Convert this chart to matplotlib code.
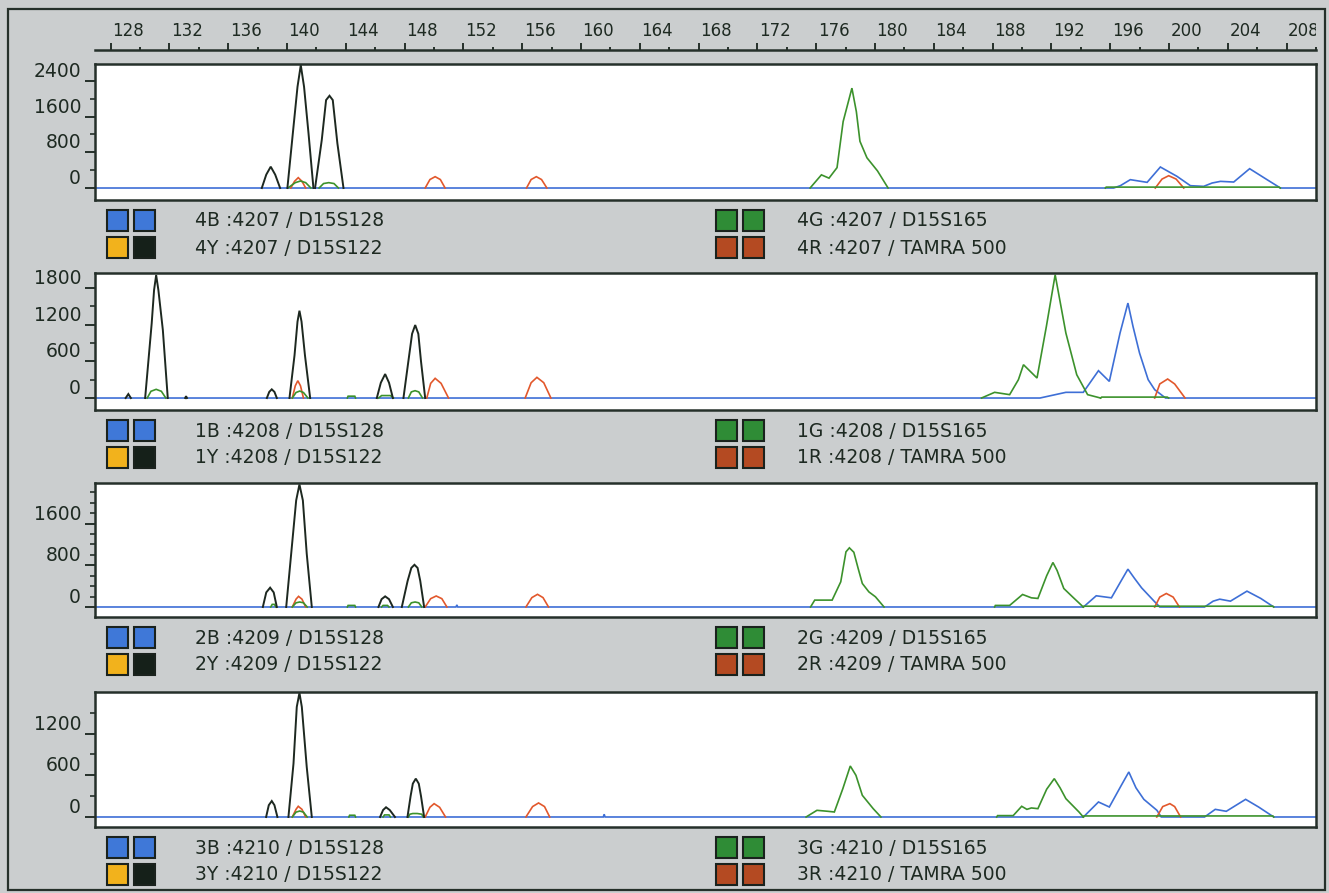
import matplotlib.pyplot as plt
from matplotlib.patches import Rectangle

W, H = 1329, 893

# ---- data (size in bp, signal in rfu) ----
LANES = ['4', '1', '2', '3']
SAMPLES = ['4207', '4208', '4209', '4210']
MARKERS = ['D15S128', 'D15S122', 'D15S165', 'TAMRA 500']
DYES = ['B', 'Y', 'G', 'R']

RULER_TICKS = list(range(128, 212, 4))
MAJOR_Y = [[0, 800, 1600, 2400], [0, 600, 1200, 1800], [0, 800, 1600], [0, 600, 1200]]
MINOR_Y = [[400, 1200, 2000], [300, 900, 1500],
           [200, 400, 600, 1000, 1200, 1400, 1800, 2000, 2200], [300, 900, 1500]]

# lane 4 / 4207
P1_BLUE = [[(126.9, 0), (195.4, 0), (195.85, 52), (196.52, 187), (197.65, 127), (198.54, 471),
            (199.66, 261), (200.56, 52), (201.45, 37), (202.02, 112), (202.58, 149), (203.47, 134),
            (204.54, 433), (205.71, 187), (206.61, 0), (209.1, 0)]]
P1_GREEN = [[(139.9, 0), (140.4, 120), (140.75, 157), (141.1, 120), (141.45, 0)],
            [(142.0, 0), (142.3, 100), (142.65, 120), (143.0, 100), (143.3, 0)],
            [(175.0, 0), (175.76, 295), (176.27, 221), (176.81, 457), (177.22, 1489), (177.81, 2240),
             (178.11, 1710), (178.35, 1047), (178.82, 678), (179.53, 383), (180.24, 0)],
            [(194.84, 0), (194.9, 20), (206.5, 20), (206.6, 0)]]
P1_BLACK = [[(138.15, 0), (138.45, 300), (138.75, 478), (139.05, 300), (139.38, 0)],
            [(139.87, 0), (140.28, 1374), (140.55, 2271), (140.77, 2756), (140.99, 2271),
             (141.29, 1225), (141.62, 0)],
            [(141.73, 0), (142.18, 1076), (142.47, 1972), (142.7, 2069), (142.92, 1972),
             (143.23, 1001), (143.64, 0)]]
P1_RED = [[(140.1, 0), (140.35, 150), (140.6, 232), (140.85, 150), (141.1, 0)],
          [(149.13, 0), (149.45, 190), (149.8, 254), (150.15, 190), (150.47, 0)],
          [(155.94, 0), (156.25, 190), (156.6, 254), (156.95, 190), (157.31, 0)],
          [(198.2, 0), (198.65, 200), (199.1, 276), (199.6, 200), (200.11, 0)]]

# lane 1 / 4208
P2_BLUE = [[(126.9, 0), (190.45, 0), (192.19, 93), (193.36, 93), (194.38, 447), (195.11, 272),
            (195.83, 1063), (196.36, 1553), (196.7, 1172), (197.14, 736), (197.72, 300),
            (198.16, 136), (198.89, 0), (209.1, 0)]]
P2_GREEN = [[(130.45, 0), (130.7, 110), (131.05, 142), (131.4, 110), (131.7, 0)],
            [(140.2, 0), (140.45, 90), (140.7, 114), (140.95, 90), (141.25, 0)],
            [(143.9, 0), (143.95, 30), (144.4, 30), (144.45, 0)],
            [(146.0, 0), (146.2, 40), (146.8, 40), (147.0, 0)],
            [(148.0, 0), (148.2, 100), (148.45, 120), (148.7, 100), (148.95, 0)],
            [(186.52, 0), (187.4, 93), (188.41, 55), (189.0, 300), (189.34, 545), (190.25, 327),
             (190.88, 1172), (191.47, 2016), (192.19, 1063), (192.92, 381), (193.65, 55),
             (194.52, 0)],
            [(194.52, 0), (194.6, 15), (199.0, 15), (199.1, 0)]]
P2_BLACK = [[(129.0, 0), (129.18, 65), (129.35, 0)],
            [(130.31, 0), (130.75, 1221), (130.91, 1766), (131.05, 2011), (131.2, 1766),
             (131.5, 1112), (131.83, 0)],
            [(133.0, 0), (133.06, 30), (133.12, 0)],
            [(138.49, 0), (138.65, 100), (138.82, 142), (139.0, 100), (139.16, 0)],
            [(140.01, 0), (140.35, 700), (140.55, 1250), (140.68, 1428), (140.82, 1250),
             (141.05, 700), (141.4, 0)],
            [(145.88, 0), (146.15, 250), (146.44, 392), (146.7, 250), (146.96, 0)],
            [(147.67, 0), (148.0, 600), (148.25, 1050), (148.46, 1194), (148.67, 1050),
             (148.85, 600), (149.13, 0)]]
P2_RED = [[(140.2, 0), (140.4, 200), (140.57, 283), (140.75, 200), (140.95, 0)],
          [(149.24, 0), (149.5, 240), (149.8, 322), (150.2, 240), (150.7, 0)],
          [(155.85, 0), (156.25, 250), (156.64, 338), (157.1, 250), (157.58, 0)],
          [(198.16, 0), (198.5, 230), (199.03, 311), (199.5, 230), (200.2, 0)]]

# lane 2 / 4209
P3_BLUE = [[(126.9, 0), (151.2, 0), (151.26, 40), (151.32, 0), (193.37, 0), (194.23, 215),
            (195.25, 176), (195.9, 500), (196.36, 726), (196.8, 550), (197.28, 367),
            (198.16, 100), (198.5, 0), (201.51, 0), (202.09, 112), (202.53, 150), (203.25, 112),
            (204.36, 304), (205.29, 164), (206.16, 0), (209.1, 0)]]
P3_GREEN = [[(138.75, 0), (138.85, 50), (139.0, 50), (139.1, 0)],
            [(140.2, 0), (140.45, 80), (140.7, 96), (140.95, 80), (141.2, 0)],
            [(143.9, 0), (143.95, 30), (144.4, 30), (144.45, 0)],
            [(146.2, 0), (146.3, 30), (146.6, 30), (146.7, 0)],
            [(148.0, 0), (148.2, 80), (148.45, 96), (148.7, 80), (148.9, 0)],
            [(175.03, 0), (175.31, 132), (176.48, 132), (177.06, 483), (177.41, 1058),
             (177.64, 1135), (177.94, 1050), (178.23, 739), (178.51, 451), (178.95, 290),
             (179.39, 196), (179.97, 0)],
            [(187.4, 0), (187.45, 30), (188.41, 30), (189.28, 240), (189.87, 176), (190.31, 164),
             (190.9, 600), (191.32, 854), (191.6, 700), (192.05, 355), (192.63, 196), (193.36, 0)],
            [(193.36, 0), (193.4, 15), (206.1, 15), (206.16, 0)]]
P3_BLACK = [[(138.22, 0), (138.45, 280), (138.71, 371), (138.95, 280), (139.16, 0)],
            [(139.79, 0), (140.23, 1342), (140.46, 2045), (140.68, 2352), (140.91, 2045),
             (141.17, 1022), (141.51, 0)],
            [(145.99, 0), (146.2, 150), (146.44, 204), (146.7, 150), (146.96, 0)],
            [(147.56, 0), (147.95, 500), (148.2, 750), (148.41, 810), (148.62, 750),
             (148.8, 500), (149.06, 0)]]
P3_RED = [[(140.2, 0), (140.45, 150), (140.62, 204), (140.85, 150), (141.1, 0)],
          [(149.13, 0), (149.5, 160), (149.87, 211), (150.25, 160), (150.59, 0)],
          [(155.9, 0), (156.3, 180), (156.68, 243), (157.05, 180), (157.42, 0)],
          [(198.16, 0), (198.5, 190), (198.94, 259), (199.4, 190), (199.82, 0)]]

# lane 3 / 4210
P4_BLUE = [[(126.9, 0), (161.1, 0), (161.16, 40), (161.22, 0), (193.37, 0), (194.38, 216),
            (195.11, 144), (195.9, 450), (196.42, 648), (196.9, 420), (197.43, 254),
            (198.31, 96), (198.6, 0), (201.51, 0), (202.23, 110), (202.97, 82), (204.27, 254),
            (205.14, 144), (206.16, 0), (209.1, 0)]]
P4_GREEN = [[(140.2, 0), (140.45, 70), (140.7, 86), (140.95, 70), (141.2, 0)],
            [(144.0, 0), (144.05, 25), (144.4, 25), (144.45, 0)],
            [(146.3, 0), (146.4, 30), (146.7, 30), (146.8, 0)],
            [(148.0, 0), (148.1, 40), (148.3, 50), (148.6, 50), (148.9, 40), (149.0, 0)],
            [(174.73, 0), (175.46, 96), (176.19, 82), (176.63, 72), (177.2, 408), (177.7, 734),
             (178.08, 600), (178.51, 312), (179.24, 120), (179.76, 0)],
            [(187.54, 0), (187.6, 20), (188.65, 20), (189.22, 154), (189.57, 110), (189.87, 130),
             (190.31, 120), (190.9, 400), (191.41, 552), (191.8, 420), (192.19, 264),
             (193.07, 72), (193.36, 0)],
            [(193.36, 0), (193.4, 15), (206.1, 15), (206.16, 0)]]
P4_BLACK = [[(138.44, 0), (138.62, 170), (138.82, 230), (139.0, 170), (139.2, 0)],
            [(139.94, 0), (140.28, 768), (140.5, 1584), (140.68, 1786), (140.84, 1584),
             (141.17, 720), (141.51, 0)],
            [(146.1, 0), (146.3, 100), (146.5, 140), (146.75, 100), (147.1, 0)],
            [(147.94, 0), (148.15, 300), (148.3, 480), (148.5, 552), (148.7, 480),
             (148.85, 300), (149.06, 0)]]
P4_RED = [[(140.2, 0), (140.45, 110), (140.6, 154), (140.85, 110), (141.1, 0)],
          [(149.13, 0), (149.45, 140), (149.73, 192), (150.1, 140), (150.5, 0)],
          [(155.9, 0), (156.35, 150), (156.75, 202), (157.15, 150), (157.5, 0)],
          [(198.3, 0), (198.7, 150), (199.18, 192), (199.5, 150), (199.9, 0)]]

PANEL_TRACES = [
    (P1_BLUE, P1_RED, P1_GREEN, P1_BLACK),
    (P2_BLUE, P2_RED, P2_GREEN, P2_BLACK),
    (P3_BLUE, P3_RED, P3_GREEN, P3_BLACK),
    (P4_BLUE, P4_RED, P4_GREEN, P4_BLACK),
]

# ---- layout / style ----
BG = '#cbcecf'
EDGE = '#25302a'
TXT = '#1e2a22'
TRACE_COLORS = ['#3e6fd6', '#e2582c', '#3c922c', '#1d2820']
SWATCH = {'B': '#3f78d8', 'Y': '#f2b21c', 'G': '#2f8c36', 'R': '#b44a22'}
XLIM = (126.94, 209.0)
PANEL_TOP = [64, 273, 483, 692]
PANEL_BOT = [200, 410, 617, 827]
YLIMS = [(-269, 2781), (-196, 2045), (-192, 2379), (-144, 1799)]
LEFT, RIGHT = 95, 1316

plt.rcParams['font.family'] = ['DejaVu Sans']


def fx(px):
    return px / W


def fy(py):
    return 1 - py / H


fig = plt.figure(figsize=(W / 100, H / 100), dpi=100, facecolor=BG)

# outer frame
fig.add_artist(Rectangle((fx(8), fy(890)), fx(1325) - fx(8), fy(9) - fy(890),
                         transform=fig.transFigure, fill=False, ec=EDGE, lw=1.6))

# size ruler at top
ax_r = fig.add_axes([fx(LEFT), fy(50), fx(RIGHT) - fx(LEFT), fy(14) - fy(50)])
ax_r.set_xlim(XLIM)
ax_r.set_facecolor(BG)
for s in ['top', 'left', 'right']:
    ax_r.spines[s].set_visible(False)
ax_r.spines['bottom'].set_color(EDGE)
ax_r.spines['bottom'].set_linewidth(1.8)
ax_r.set_yticks([])
ax_r.set_xticks(RULER_TICKS)
ax_r.set_xticks([t + 2 for t in RULER_TICKS], minor=True)
ax_r.tick_params(axis='x', which='major', direction='in', length=5, width=1.4,
                 color=EDGE, labelbottom=False)
ax_r.tick_params(axis='x', which='minor', direction='in', length=2.5, width=1.4, color=EDGE)
for t in RULER_TICKS:
    ax_r.text(t + 0.1, 0.52, str(t), ha='left', va='center', fontsize=12,
              color=TXT, transform=ax_r.get_xaxis_transform(), clip_on=True)

for i in range(4):
    top, bot = PANEL_TOP[i], PANEL_BOT[i]
    ax = fig.add_axes([fx(LEFT), fy(bot), fx(RIGHT) - fx(LEFT), fy(top) - fy(bot)])
    ax.set_facecolor('white')
    ax.set_xlim(XLIM)
    ax.set_ylim(YLIMS[i])
    ax.set_xticks([])
    for s in ax.spines.values():
        s.set_color(EDGE)
        s.set_linewidth(1.8)
    ax.set_yticks(MAJOR_Y[i], [str(v) for v in MAJOR_Y[i]], va='bottom',
                  fontsize=13.5, color=TXT)
    ax.set_yticks(MINOR_Y[i], minor=True)
    ax.tick_params(axis='y', which='major', direction='out', length=7, width=1.4,
                   color=EDGE, pad=3)
    ax.tick_params(axis='y', which='minor', direction='out', length=3.5, width=1.2,
                   color=EDGE)

    for trace, col in zip(PANEL_TRACES[i], TRACE_COLORS):
        lw = 1.4 if col == TRACE_COLORS[3] else 1.2
        for seg in trace:
            xs = [p[0] for p in seg]
            ys = [p[1] for p in seg]
            ax.plot(xs, ys, color=col, lw=lw, solid_joinstyle='miter')

    # legend band under the panel
    rows = [bot + 21, bot + 48]
    groups = [(107, 195, [('B', 'B'), ('Y', 'K')], [0, 1]),
              (716, 797, [('G', 'G'), ('R', 'R')], [2, 3])]
    for sq_x, txt_x, pairs, mk in groups:
        for yc, pair, m in zip(rows, pairs, mk):
            for k, code in enumerate(pair):
                col = SWATCH.get(code, '#152019')
                x0 = sq_x + k * 27
                fig.add_artist(Rectangle((fx(x0), fy(yc + 10)), fx(21), 21 / H,
                                         transform=fig.transFigure, fc=col, ec='#1a221d', lw=1.5))
            label = f"{LANES[i]}{DYES[m]} :{SAMPLES[i]} / {MARKERS[m]}"
            fig.text(fx(txt_x), fy(yc), label, ha='left', va='center', fontsize=13.5,
                     color=TXT)

fig.savefig('out.png', dpi=100, facecolor=BG)
